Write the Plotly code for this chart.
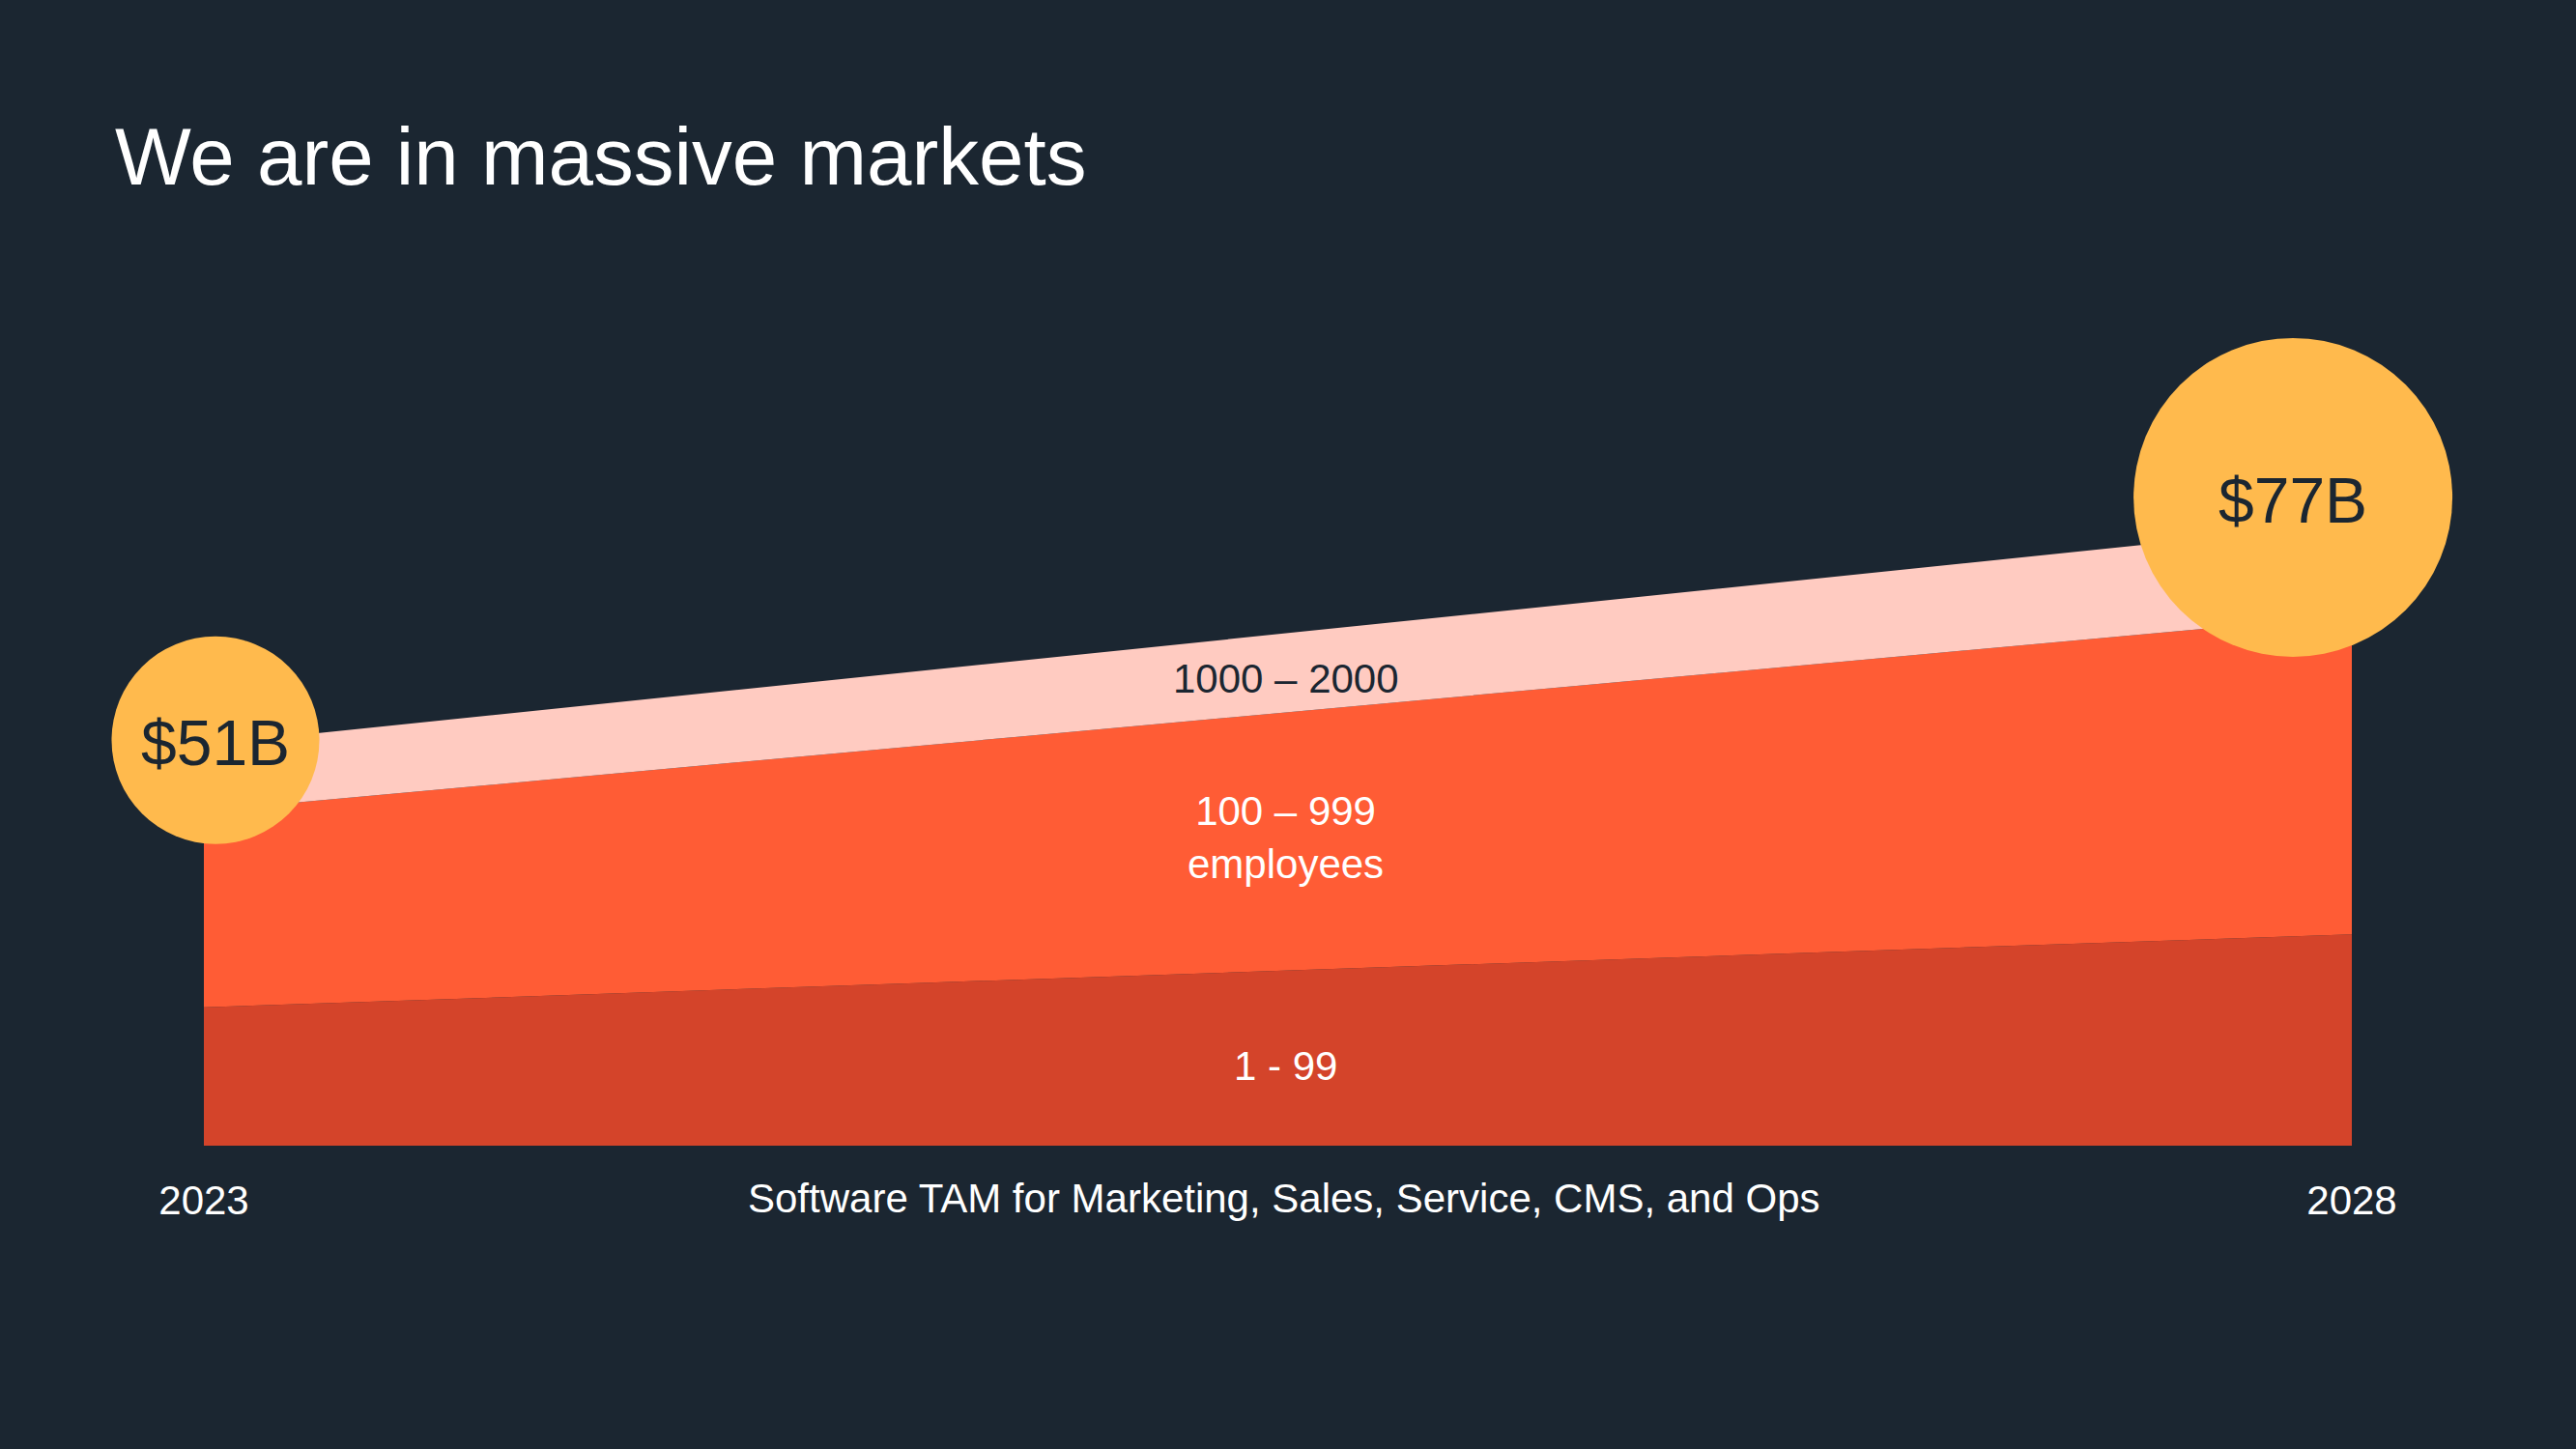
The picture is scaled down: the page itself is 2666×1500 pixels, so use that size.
import plotly.graph_objects as go

# ── Data ───────────────────────────────────────────────────────────────────────
years = [2023, 2028]
segments = ["1 - 99", "100 – 999<br>employees", "1000 – 2000"]
small_biz = [17.6, 26.9]      # 1 - 99 employees ($B)
mid_market = [25.0, 40.6]     # 100 - 999 employees ($B)
upper_mid = [8.4, 11.7]       # 1000 - 2000 employees ($B)
tam_labels = ["$51B", "$77B"]

# ── Style ──────────────────────────────────────────────────────────────────────
BG = "#1B2631"
COLORS = ["#D4442A", "#FF5C35", "#FFCBC1"]
LABEL_COLORS = ["white", "white", "#1B2631"]
YELLOW = "#FFBA4D"
FONT = "Liberation Sans, Arial, Helvetica, sans-serif"

series = [small_biz, mid_market, upper_mid]
totals = [sum(v) for v in zip(*series)]

fig = go.Figure()
for name, vals, col in zip(segments, series, COLORS):
    fig.add_trace(go.Scatter(
        x=years, y=vals, name=name, stackgroup="tam", mode="lines",
        line=dict(width=0, color=col), fillcolor=col, hoverinfo="skip",
    ))

# segment labels, centered in each band at the middle year
mid_x = sum(years) / 2
label_nudge = [-1.0, 0.6, -0.6]
base = 0.0
for name, vals, fc, dy in zip(segments, series, LABEL_COLORS, label_nudge):
    band = sum(vals) / 2
    fig.add_annotation(x=mid_x, y=base + band / 2 + dy, text=name, showarrow=False,
                       xshift=8, font=dict(size=42, color=fc, family=FONT))
    base += band

# TAM bubbles at the ends of the stack
x_nudge = [0.027, -0.137]
y_nudge = [0.6, 3.3]
bx = [x + dx for x, dx in zip(years, x_nudge)]
by = [t + dy for t, dy in zip(totals, y_nudge)]
fig.add_trace(go.Scatter(
    x=bx, y=by, mode="markers",
    marker=dict(size=[215, 330], color=YELLOW, opacity=1, line=dict(width=0)),
    cliponaxis=False, hoverinfo="skip", showlegend=False,
))
for x, y, t in zip(bx, by, tam_labels):
    fig.add_annotation(x=x, y=y, text=t, showarrow=False, yshift=-3,
                       font=dict(size=66, color=BG, family=FONT))

fig.add_annotation(xref="paper", yref="paper", x=0.5, y=-0.05, yanchor="middle",
                   xshift=6,
                   text="Software TAM for Marketing, Sales, Service, CMS, and Ops",
                   showarrow=False, font=dict(size=42, color="white", family=FONT))

fig.update_xaxes(range=[years[0], years[1]], tickvals=years, ticktext=[str(y) for y in years],
                 showgrid=False, zeroline=False, showline=False,
                 ticks="outside", ticklen=20, tickcolor="rgba(0,0,0,0)",
                 tickfont=dict(size=42, color="white", family=FONT))
fig.update_yaxes(range=[0, 133.5], visible=False, showgrid=False)

fig.update_layout(
    width=2666, height=1500,
    paper_bgcolor=BG, plot_bgcolor=BG,
    margin=dict(l=211, r=232, t=100, b=314),
    showlegend=False,
    title=dict(text="We are in massive markets", x=119 / 2666, xanchor="left",
               y=1 - 162 / 1500, yanchor="middle",
               font=dict(size=83.5, color="white", family=FONT)),
)

fig.write_html("out.html", config={"displayModeBar": False},
               post_script="document.body.style.margin='0';"
                           "document.body.style.background='%s';" % BG)
